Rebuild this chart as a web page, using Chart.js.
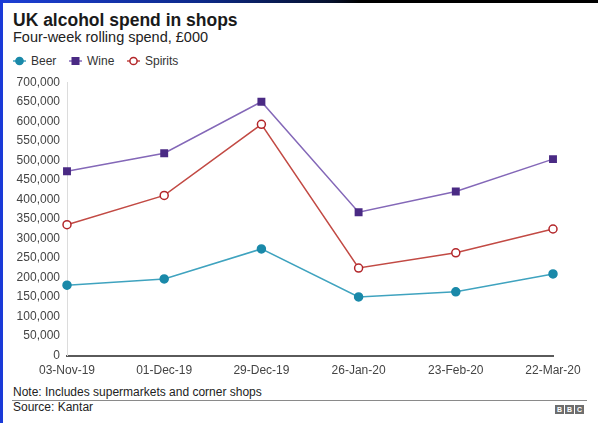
<!DOCTYPE html>
<html>
<head>
<meta charset="utf-8">
<script src="https://cdn.jsdelivr.net/npm/chart.js@4"></script>
<style>
  html, body { margin: 0; padding: 0; background: #fff; }
  body { width: 598px; height: 423px; position: relative; overflow: hidden;
         font-family: "Liberation Sans", Arial, Helvetica, sans-serif; color: #222; }
  #topbar { position: absolute; left: 0; top: 0; width: 598px; height: 3px;
            background: linear-gradient(to right, #1d3fd6 0px, #0d2a8a 200px, #06112e 330px, #000 360px); }
  #leftbar { position: absolute; left: 0; top: 0; width: 3px; height: 423px; background: #1a3ad8; }
  #title { position: absolute; left: 13px; top: 10px; font-size: 17.5px; font-weight: bold; color: #1a1a1a; }
  #subtitle { position: absolute; left: 13px; top: 29px; font-size: 14.5px; color: #222; }
  #legend { position: absolute; left: 12px; top: 53px; font-size: 12px; color: #333; }
  .item { position: absolute; top: 0; white-space: nowrap; line-height: 16px; }
  .item canvas { position: absolute; left: 0; top: 1px; }
  .item span { position: absolute; top: 0; }
  #wrap { position: absolute; left: 0; top: 68px; width: 598px; height: 317px; }
  #note { position: absolute; left: 13px; top: 385px; font-size: 12px; color: #222; }
  #rule { position: absolute; left: 12px; top: 400px; width: 575px; height: 1px; background: #8a8a8a; }
  #source { position: absolute; left: 13px; top: 400px; font-size: 12px; color: #222; }
  #bbc { position: absolute; left: 555px; top: 405px; }
  #bbc b { display: inline-block; width: 9px; height: 9px; margin-right: 1px; background: #6e6e6e;
           color: #fff; font-size: 7px; line-height: 9px; text-align: center; vertical-align: top; }
</style>
</head>
<body>
<div id="topbar"></div>
<div id="leftbar"></div>
<div id="title">UK alcohol spend in shops</div>
<div id="subtitle">Four-week rolling spend, £000</div>
<div id="legend"></div>
<div id="wrap"><canvas id="chart"></canvas></div>
<div id="note">Note: Includes supermarkets and corner shops</div>
<div id="rule"></div>
<div id="source">Source: Kantar</div>
<div id="bbc"><b>B</b><b>B</b><b>C</b></div>
<script>
const dates = ["03-Nov-19", "01-Dec-19", "29-Dec-19", "26-Jan-20", "23-Feb-20", "22-Mar-20"];
const beer = [180000, 196000, 273000, 150000, 163000, 209000];
const wine = [472000, 518000, 650000, 367000, 420000, 503000];
const spirits = [335000, 410000, 592000, 224000, 263000, 324000];

const yMax = 700000;
const yStep = 50000;

const series = [
  { label: "Beer", data: beer, line: "#3fa3bf", mark: "#1a89a9", fill: "#1a89a9", shape: "circle", r: 4 },
  { label: "Wine", data: wine, line: "#8468b8", mark: "#4a2a84", fill: "#4a2a84", shape: "rect", r: 5.6 },
  { label: "Spirits", data: spirits, line: "#c24a44", mark: "#b3262a", fill: "#ffffff", shape: "circle", r: 4 },
];

// legend: short line with marker, then label
const legendX = [0, 56, 114];
const legend = document.getElementById("legend");
series.forEach((s, i) => {
  const item = document.createElement("div");
  item.className = "item";
  item.style.left = legendX[i] + "px";
  const c = document.createElement("canvas");
  c.width = 16; c.height = 14;
  const g = c.getContext("2d");
  g.strokeStyle = s.line; g.lineWidth = 1.5;
  g.beginPath(); g.moveTo(1, 7); g.lineTo(14, 7); g.stroke();
  g.fillStyle = s.fill; g.strokeStyle = s.mark; g.lineWidth = 1.5;
  if (s.shape === "rect") {
    g.fillRect(3.5, 3, 8, 8);
  } else {
    g.beginPath(); g.arc(7.5, 7, 3.6, 0, Math.PI * 2); g.fill(); g.stroke();
  }
  item.appendChild(c);
  const t = document.createElement("span");
  t.style.left = "19px";
  t.textContent = s.label;
  item.appendChild(t);
  legend.appendChild(item);
});

const ctx = document.getElementById("chart").getContext("2d");
new Chart(ctx, {
  type: "line",
  data: {
    labels: dates,
    datasets: series.map((s) => ({
      label: s.label,
      data: s.data,
      borderColor: s.line,
      borderWidth: 1.5,
      pointStyle: s.shape,
      pointRadius: s.r,
      pointBackgroundColor: s.fill,
      pointBorderColor: s.mark,
      pointBorderWidth: s.shape === "rect" ? 0 : 1.5,
      tension: 0,
    })),
  },
  options: {
    responsive: true,
    maintainAspectRatio: false,
    animation: false,
    events: [],
    layout: { padding: { top: 6, right: 45, left: 0, bottom: 0 } },
    plugins: { legend: { display: false }, tooltip: { enabled: false } },
    scales: {
      x: {
        offset: false,
        grid: { display: false, drawTicks: false },
        border: { display: true, color: "#5a5a5a", width: 2 },
        ticks: {
          color: "#444",
          padding: 8,
          maxRotation: 0,
          autoSkip: false,
          font: { family: "'Liberation Sans', Arial, sans-serif", size: 12 },
        },
        afterFit: (scale) => { scale.height = 29.5; },
      },
      y: {
        min: 0,
        max: yMax,
        grid: { display: false, drawTicks: false },
        border: { display: true, color: "#dcdcdc", width: 1 },
        ticks: {
          stepSize: yStep,
          color: "#444",
          padding: 7,
          font: { family: "'Liberation Sans', Arial, sans-serif", size: 12 },
          callback: (v) => v.toLocaleString("en-GB"),
        },
        afterFit: (scale) => { scale.width = 67; },
      },
    },
  },
});
</script>
</body>
</html>
